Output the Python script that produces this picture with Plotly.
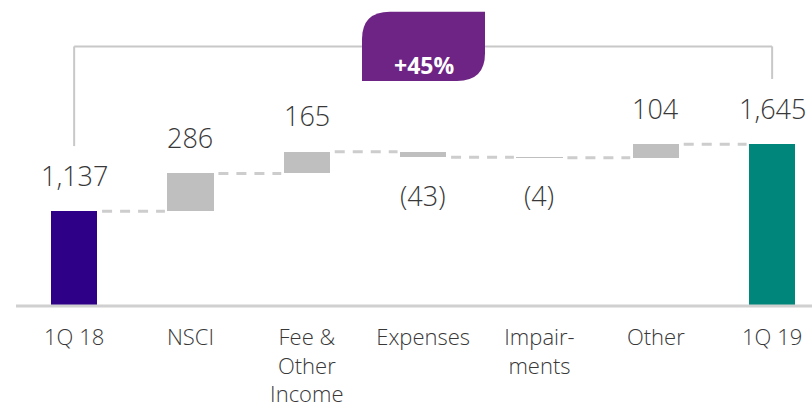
import plotly.graph_objects as go

# ---- data ----
categories = ["1Q 18", "NSCI", "Fee &<br>Other<br>Income", "Expenses", "Impair-<br>ments", "Other", "1Q 19"]
start_value = 1137
deltas = [286, 165, -43, -4, 104]
end_value = 1645
growth_label = "+45%"

# ---- colours ----
C_START = "#2E0088"
C_END = "#00867A"
C_DELTA = "#BFBFBF"
C_CONN = "#CDCDCD"
C_BADGE = "#6E2484"
C_TEXT = "#383838"
FONT = "Open Sans"

# ---- compute bars ----
n = len(categories)
xs = list(range(n))
bases, heights, colors = [], [], []
running = start_value
bases.append(0); heights.append(start_value); colors.append(C_START)
levels = [start_value]
for d in deltas:
    if d >= 0:
        bases.append(running); heights.append(d)
    else:
        bases.append(running + d); heights.append(-d)
    colors.append(C_DELTA)
    running += d
    levels.append(running)
bases.append(0); heights.append(end_value); colors.append(C_END)

BW = 0.4
fig = go.Figure()
fig.add_trace(go.Bar(x=xs, y=heights, base=bases, width=BW,
                     marker=dict(color=colors, line=dict(width=0)),
                     hoverinfo="skip"))

# connectors
for i, lvl in enumerate(levels):
    fig.add_trace(go.Scatter(x=[i + BW / 2 + 0.04, i + 1 - BW / 2 - 0.02], y=[lvl, lvl],
                             mode="lines", line=dict(color=C_CONN, width=3, dash="10px,8px"),
                             hoverinfo="skip", showlegend=False))

# value labels
labels = [f"{start_value:,}"] + [f"{d:,}" if d >= 0 else f"({-d:,})" for d in deltas] + [f"{end_value:,}"]
signs = [1] + [1 if d >= 0 else -1 for d in deltas] + [1]
for i in range(n):
    top = bases[i] + heights[i]
    bot = bases[i]
    if signs[i] > 0:
        fig.add_annotation(x=i, y=top, text=labels[i], showarrow=False, yanchor="middle",
                           yshift=36, font=dict(size=27, color=C_TEXT, family=FONT, weight=300))
    else:
        fig.add_annotation(x=i, y=bot, text=labels[i], showarrow=False, yanchor="middle",
                           yshift=-38, font=dict(size=27, color=C_TEXT, family=FONT, weight=300))

# ---- layout geometry ----
W, H = 812, 408
L, R, T, B = 16, 0, 0, 98
pw, ph = W - L - R, H - T - B

def px(x):
    return (x - L) / pw

def py(y):
    return (H - B - y) / ph

# bracket
br = dict(color="#C8C8C8", width=2)
fig.add_shape(type="line", xref="x", yref="paper", x0=0, x1=0, y0=py(148), y1=py(47), line=br)
fig.add_shape(type="line", xref="x", yref="paper", x0=n - 1, x1=n - 1, y0=py(80), y1=py(47), line=br)
fig.add_shape(type="line", xref="x", yref="paper", x0=0, x1=n - 1, y0=py(47), y1=py(47), line=br)

# badge (leaf shape)
x0, x1, y0, y1, r = 362, 485, 12, 82, 28
pts = (f"M {px(x0)},{py(y1)} L {px(x0)},{py(y0 + r)} "
       f"Q {px(x0)},{py(y0)} {px(x0 + r)},{py(y0)} "
       f"L {px(x1)},{py(y0)} L {px(x1)},{py(y1 - r)} "
       f"Q {px(x1)},{py(y1)} {px(x1 - r)},{py(y1)} Z")
fig.add_shape(type="path", xref="paper", yref="paper", path=pts,
              fillcolor=C_BADGE, line=dict(width=0))
fig.add_annotation(xref="paper", yref="paper", x=px((x0 + x1) / 2), y=py(48), text=f"<b>{growth_label}</b>",
                   showarrow=False, font=dict(size=23, color="white", family=FONT))

# x range so that the category centres land where the reference puts them
x_left = -0.5
x_right = x_left + pw / 116.33

fig.update_layout(
    width=W, height=H, margin=dict(l=L, r=R, t=T, b=B),
    plot_bgcolor="white", paper_bgcolor="white", showlegend=False,
    bargap=0,
    xaxis=dict(range=[x_left, x_right], tickmode="array", tickvals=xs, ticktext=categories,
               showgrid=False, zeroline=False, showline=False, ticks="", ticklabelstandoff=16,
               tickfont=dict(size=22, color=C_TEXT, family=FONT, weight=300)),
    yaxis=dict(range=[420, 420 + ph * 7.47], showgrid=False, zeroline=False, showticklabels=False, ticks=""),
)
fig.add_shape(type="line", xref="paper", yref="paper", x0=0, x1=1, y0=0, y1=0,
              line=dict(color="#D0D0D0", width=3))

fig.write_html("out.html", config={"displayModeBar": False},
               post_script="document.body.style.margin='0';document.body.style.overflow='hidden';")
